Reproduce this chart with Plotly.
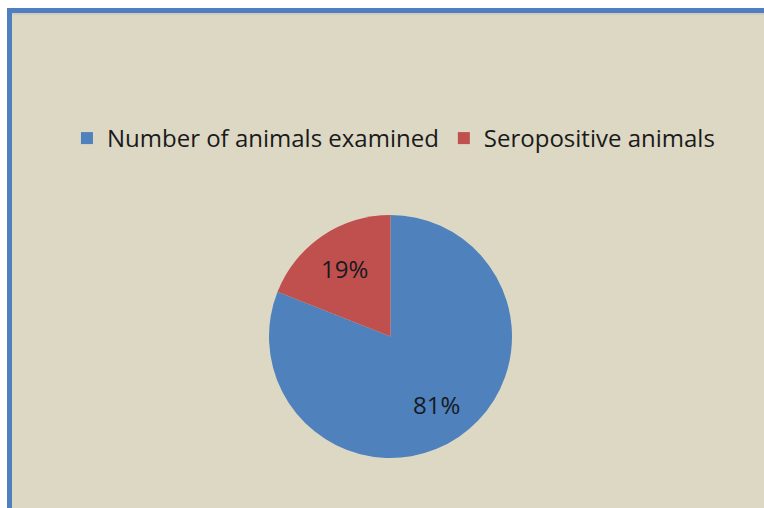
import math
import plotly.graph_objects as go

labels = ["Number of animals examined", "Seropositive animals"]
values = [81, 19]
colors = ["#4F81BD", "#C0504D"]

W, H = 764, 508
cx, cy, r = 390.5, 336.5, 121.5
label_frac = 0.68

fig = go.Figure(go.Pie(
    labels=labels,
    values=values,
    sort=False,
    direction="clockwise",
    rotation=0,
    marker=dict(colors=colors, line=dict(width=0)),
    textinfo="none",
    domain=dict(x=[(cx - r) / W, (cx + r) / W], y=[(H - cy - r) / H, (H - cy + r) / H]),
    hoverinfo="label+value+percent",
))

# percentage labels placed along each slice's mid-angle (computed from the data)
total = sum(values)
annotations = []
cum = 0
for v in values:
    theta = 2 * math.pi * (cum + v / 2) / total
    cum += v
    px = cx + label_frac * r * math.sin(theta)
    py = cy - label_frac * r * math.cos(theta)
    annotations.append(dict(
        xref="paper", yref="paper", x=px / W, y=(H - py) / H,
        text=f"{round(100 * v / total)}%", showarrow=False,
        xanchor="center", yanchor="middle",
        font=dict(family="Open Sans", size=24, color="#161a22"),
    ))

fig.update_layout(
    width=W, height=H,
    margin=dict(l=0, r=0, t=0, b=0),
    paper_bgcolor="white",
    showlegend=True,
    legend=dict(
        orientation="h",
        x=0.515, xanchor="center",
        y=1 - 116 / H, yanchor="top",
        font=dict(family="Open Sans", size=24, color="#1a1a1a"),
        bgcolor="rgba(0,0,0,0)",
        traceorder="normal",
    ),
    annotations=annotations,
    shapes=[
        dict(type="rect", xref="paper", yref="paper", layer="below",
             x0=9.5 / W, x1=1.05, y0=-0.05, y1=1 - 10.5 / H,
             fillcolor="#DDD8C3", line=dict(color="#4F7FBE", width=5)),
        dict(type="line", xref="paper", yref="paper", layer="below",
             x0=12 / W, x1=1.05, y0=1 - 14 / H, y1=1 - 14 / H,
             line=dict(color="#CFCCC0", width=2)),
    ],
)

fig.write_html("out.html")
